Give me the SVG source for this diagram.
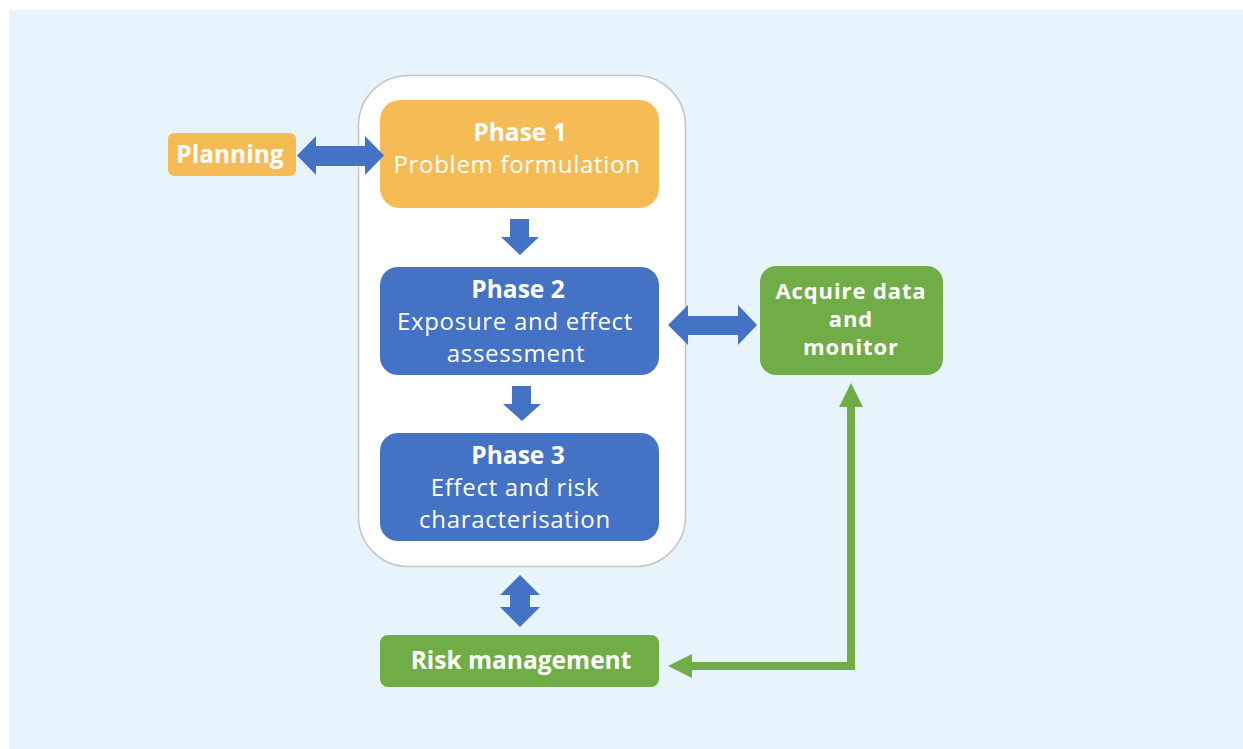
<svg xmlns="http://www.w3.org/2000/svg" width="1243" height="749" viewBox="0 0 1243 749">
<style>
.t{font-family:"Open Sans","Liberation Sans",sans-serif;fill:#ffffff;text-anchor:middle}
.b{font-weight:700;font-size:24.5px}
.bs{font-weight:700;font-size:22px;letter-spacing:0.9px}
.r{font-weight:400;font-size:24px;letter-spacing:0.7px}
.bl{fill:#4472c4}
.gr{fill:#70ad47}
.or{fill:#f5bb55}
</style>
<rect x="9" y="10" width="1234" height="739" fill="#e8f4fc"/>
<g id="container">
<rect x="358.5" y="75.5" width="327" height="491" rx="50" fill="#ffffff" stroke="#c4c4c4" stroke-width="1.5"/>
</g>
<g id="planning">
<rect class="or" x="168" y="133" width="128" height="43" rx="6"/>
<text class="t b" x="230" y="163">Planning</text>
</g>
<g id="phase1">
<rect class="or" x="380" y="100" width="279" height="108" rx="20"/>
<text class="t b" x="520" y="141">Phase 1</text>
<text class="t r" x="517" y="173">Problem formulation</text>
</g>
<g id="phase2">
<rect class="bl" x="380" y="267" width="279" height="108" rx="18"/>
<text class="t b" x="518" y="298">Phase 2</text>
<text class="t r" x="515" y="330">Exposure and effect</text>
<text class="t r" x="516" y="362">assessment</text>
</g>
<g id="phase3">
<rect class="bl" x="380" y="433" width="279" height="108" rx="18"/>
<text class="t b" x="518" y="464">Phase 3</text>
<text class="t r" x="515" y="496">Effect and risk</text>
<text class="t r" x="515" y="528">characterisation</text>
</g>
<g id="acquire">
<rect class="gr" x="760" y="266" width="183" height="109" rx="16"/>
<text class="t bs" x="851" y="299">Acquire data</text>
<text class="t bs" x="851" y="327">and</text>
<text class="t bs" x="851" y="355">monitor</text>
</g>
<g id="risk">
<rect class="gr" x="380" y="635" width="279" height="52" rx="8"/>
<text class="t b" x="521" y="669">Risk management</text>
</g>
<g id="connectors">
<polygon class="bl" points="297,155.5 316,136 316,146 365,146 365,136 384,155.5 365,175 365,166 316,166 316,175"/>
<polygon class="bl" points="510,219 529,219 529,237 539,237 520,255 501,237 510,237"/>
<polygon class="bl" points="512,386 531,386 531,404 541,404 522,421 503,404 512,404"/>
<polygon class="bl" points="668,325 688,305 688,316 738,316 738,305 757,325 738,345 738,335 688,335 688,345"/>
<polygon class="bl" points="520,575 540,595 530,595 530,607 540,607 520,627 500,607 510,607 510,595 500,595"/>
<polyline points="851,405 851,666 690,666" fill="none" stroke="#70ad47" stroke-width="8"/>
<polygon class="gr" points="851,383 863,407 839,407"/>
<polygon class="gr" points="668,666 692,654 692,678"/>
</g>
</svg>
